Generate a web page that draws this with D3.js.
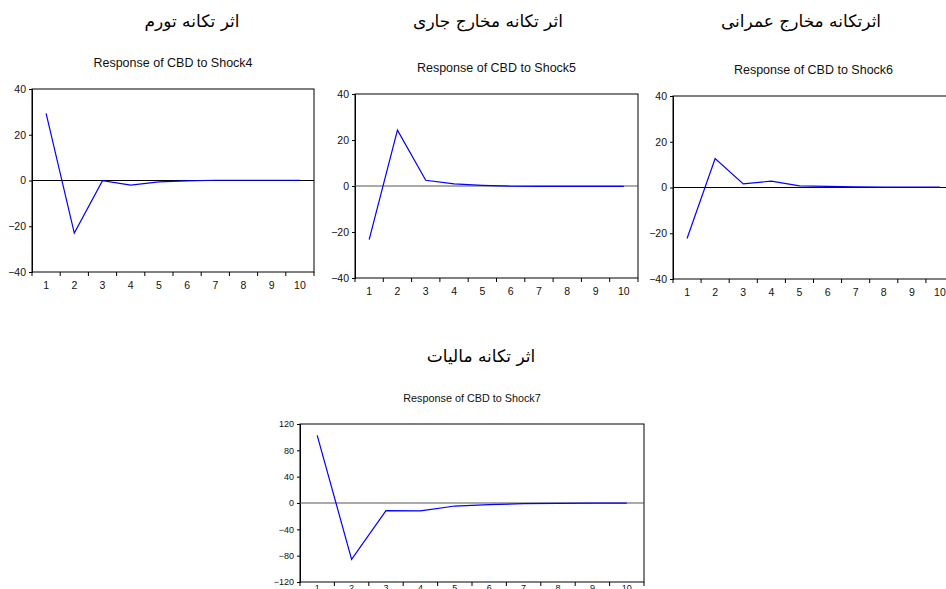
<!DOCTYPE html>
<html>
<head>
<meta charset="utf-8">
<script src="https://cdn.jsdelivr.net/npm/d3@7"></script>
<style>
  html, body { margin: 0; padding: 0; background: #fff; overflow: hidden; }
  svg { display: block; }
  .fa { font-family: "DejaVu Sans", "Noto Sans", sans-serif; }
  .lat { font-family: "Liberation Sans", Arial, sans-serif; }
</style>
</head>
<body>
<svg id="chart" width="946" height="589"></svg>
<script>
// Impulse responses of CBD over 10 periods
const periods = [1, 2, 3, 4, 5, 6, 7, 8, 9, 10];
const shock4 = [29.3, -23.0, -0.1, -2.0, -0.6, -0.2, 0.1, 0.1, 0.1, 0.1];
const shock5 = [-23.3, 24.3, 2.5, 0.9, 0.3, -0.1, -0.2, -0.2, -0.2, -0.2];
const shock6 = [-22.3, 12.7, 1.6, 2.8, 0.7, 0.5, 0.3, 0.2, 0.2, 0.2];
const shock7 = [102.8, -85.5, -11.7, -12.0, -4.6, -2.5, -1.0, -0.5, -0.3, -0.2];

const ticks40 = [-40, -20, 0, 20, 40];
const ticks120 = [-120, -80, -40, 0, 40, 80, 120];

const headings = ["اثر تکانه تورم", "اثر تکانه مخارج جاری", "اثرتکانه مخارج عمرانی", "اثر تکانه مالیات"];
const titles = ["Response of CBD to Shock4", "Response of CBD to Shock5", "Response of CBD to Shock6", "Response of CBD to Shock7"];

const svg = d3.select("#chart");
svg.append("rect").attr("width", 946).attr("height", 589).attr("fill", "#fff");

// panel layout
const panels = [
  { x0: 32, x1: 314, y0: 89, y1: 272, values: shock4, ticks: ticks40, title: titles[0], fs: 10.5, tfs: 12.5, pad: 10, head: headings[0], hx: 192, hy: 27, zero: "#000" },
  { x0: 355, x1: 638, y0: 94, y1: 278, values: shock5, ticks: ticks40, title: titles[1], fs: 10.5, tfs: 12.5, pad: 10, head: headings[1], hx: 488, hy: 27, zero: "#555" },
  { x0: 673, x1: 954, y0: 96, y1: 279, values: shock6, ticks: ticks40, title: titles[2], fs: 10.5, tfs: 12.5, pad: 10, head: headings[2], hx: 801, hy: 27, zero: "#000" },
  { x0: 300, x1: 644, y0: 424, y1: 582, values: shock7, ticks: ticks120, title: titles[3], fs: 9, tfs: 10.8, pad: 3, head: headings[3], hx: 481, hy: 362, zero: "#555" }
];

panels.forEach(p => {
  const g = svg.append("g");
  const x = d3.scaleBand().domain(periods).range([p.x0, p.x1]);
  const ext = d3.extent(p.ticks);
  const y = d3.scaleLinear().domain(ext).range([p.y1, p.y0]);

  // Persian heading
  g.append("text").attr("class", "fa")
    .attr("x", p.hx).attr("y", p.hy)
    .attr("text-anchor", "middle")
    .attr("direction", "rtl")
    .attr("font-size", 17)
    .attr("fill", "#000")
    .text(p.head);

  // chart title
  g.append("text").attr("class", "lat")
    .attr("x", (p.x0 + p.x1) / 2).attr("y", p.y0 - 22)
    .attr("text-anchor", "middle")
    .attr("font-size", p.tfs)
    .attr("fill", "#111")
    .text(p.title);

  // frame
  g.append("rect")
    .attr("x", p.x0).attr("y", p.y0)
    .attr("width", p.x1 - p.x0).attr("height", p.y1 - p.y0)
    .attr("fill", "none").attr("stroke", "#000").attr("stroke-width", 1);

  // y axis
  const ya = g.append("g").attr("class", "lat")
    .attr("transform", `translate(${p.x0},0)`)
    .call(d3.axisLeft(y).tickValues(p.ticks).tickSize(3).tickPadding(3).tickFormat(d3.format("d")));
  ya.select(".domain").attr("stroke", "#000");
  ya.selectAll("text").attr("font-size", p.fs).attr("fill", "#111").attr("font-family", "Liberation Sans, Arial, sans-serif");

  // x axis: category labels centred in bands, ticks on band edges
  const xa = g.append("g").attr("class", "lat")
    .attr("transform", `translate(0,${p.y1})`)
    .call(d3.axisBottom(x).tickSize(0).tickPadding(p.pad));
  xa.select(".domain").remove();
  xa.selectAll("text").attr("font-size", p.fs).attr("fill", "#111").attr("font-family", "Liberation Sans, Arial, sans-serif");
  const edges = periods.map(d => x(d)).concat([p.x1]);
  g.selectAll(null).data(edges).enter().append("line")
    .attr("x1", d => d).attr("x2", d => d)
    .attr("y1", p.y1).attr("y2", p.y1 + 4)
    .attr("stroke", "#000");

  // zero line
  g.append("line")
    .attr("x1", p.x0).attr("x2", p.x1)
    .attr("y1", y(0)).attr("y2", y(0))
    .attr("stroke", p.zero).attr("stroke-width", 1);

  // response line
  const line = d3.line()
    .x((d, i) => x(periods[i]) + x.bandwidth() / 2)
    .y(d => y(d));
  g.append("path")
    .datum(p.values)
    .attr("d", line)
    .attr("fill", "none")
    .attr("stroke", "#0000ff")
    .attr("stroke-width", 1.2);
});
</script>
</body>
</html>
